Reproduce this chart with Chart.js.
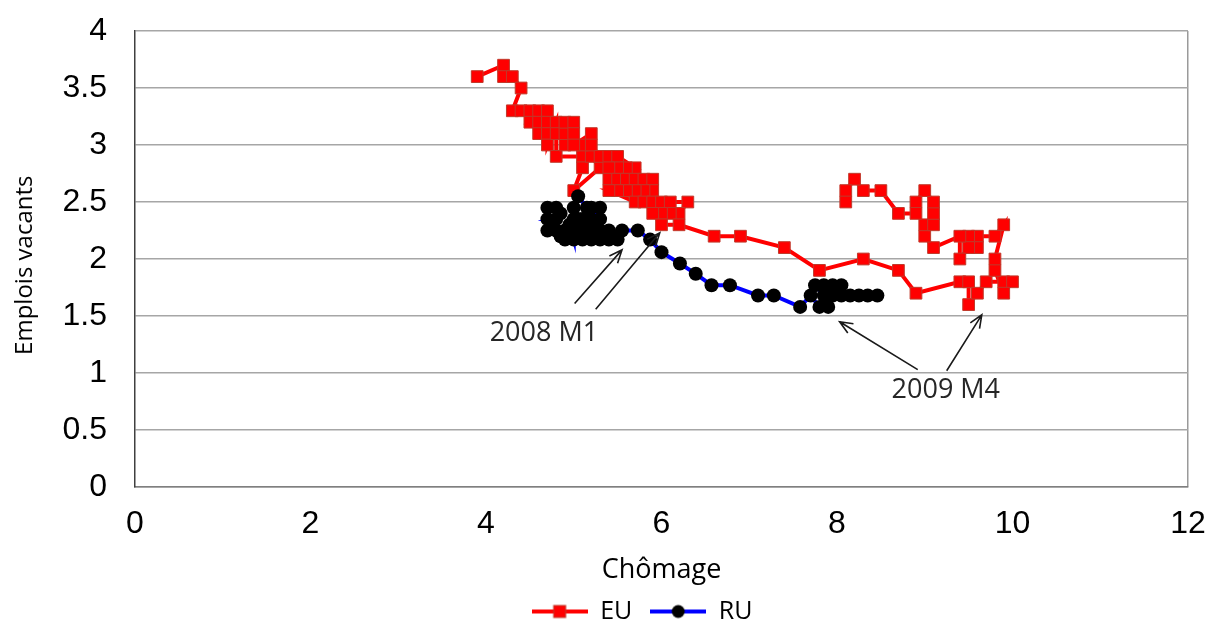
<!DOCTYPE html>
<html lang="fr">
<head>
<meta charset="UTF-8">
<title>Chômage et emplois vacants</title>
<script src="https://cdn.jsdelivr.net/npm/chart.js"></script>
<style>
  html, body { margin: 0; padding: 0; background: #fff; }
  #wrap { width: 1211px; height: 624px; }
</style>
</head>
<body>
<div id="wrap"><canvas id="chart" width="1211" height="624"></canvas></div>
<script>
// EU (États-Unis) : chômage / emplois vacants
const euX = [3.9, 4.2, 4.2, 4.3, 4.4, 4.3, 4.4, 4.5, 4.6, 4.7, 4.5, 4.6, 4.6, 4.7, 4.7, 4.7, 4.8, 4.8, 4.8, 5.1,
  5.1, 5.0, 5.3, 5.2, 5.1, 4.9, 4.9, 4.9, 5.0, 5.0, 5.0, 5.2, 5.2, 5.3, 5.4, 5.5,
  5.7, 5.6, 5.5, 5.4, 5.4, 5.5, 5.6, 5.7, 5.8, 5.9, 5.9, 5.8, 5.7, 5.6, 5.5, 5.4,
  5.7, 5.8, 5.9, 6.0, 6.1, 6.3, 6.2, 6.1, 6.0, 5.9, 6.0, 6.2,
  6.6, 6.9, 7.4, 7.8, 8.3, 8.7, 8.9, 9.4, 9.5, 9.5, 9.6, 9.7, 9.9, 10.0, 9.9, 9.8, 9.8, 9.9,
  9.8, 9.6, 9.5, 9.6, 9.5, 9.4, 9.4, 9.1, 9.0, 9.0, 9.1, 9.1, 9.1, 9.0, 8.9, 8.9, 8.7, 8.5,
  8.3, 8.2, 8.1, 8.1];
const euY = [3.6, 3.7, 3.6, 3.6, 3.5, 3.3, 3.3, 3.3, 3.3, 3.3, 3.2, 3.2, 3.1, 3.2, 3.1, 3.0, 3.2, 3.1, 2.9, 2.9,
  2.8, 2.6, 2.8, 2.9, 3.0, 3.0, 3.1, 3.2, 3.2, 3.1, 3.0, 3.1, 3.0, 2.9, 2.9, 2.9,
  2.8, 2.8, 2.8, 2.8, 2.7, 2.7, 2.7, 2.7, 2.7, 2.7, 2.6, 2.6, 2.6, 2.6, 2.6, 2.6,
  2.5, 2.5, 2.5, 2.5, 2.5, 2.5, 2.4, 2.4, 2.4, 2.4, 2.3, 2.3,
  2.2, 2.2, 2.1, 1.9, 2.0, 1.9, 1.7, 1.8, 1.8, 1.6, 1.7, 1.8, 1.8, 1.8, 1.7, 1.9, 2.0, 2.3,
  2.2, 2.2, 2.2, 2.1, 2.1, 2.0, 2.2, 2.1, 2.2, 2.3, 2.3, 2.4, 2.5, 2.6, 2.5, 2.4, 2.4, 2.6,
  2.6, 2.7, 2.6, 2.5];

// RU (Royaume-Uni)
const ruX = [4.7, 4.8, 4.85, 4.7, 4.8, 4.75, 4.7, 4.8, 4.9, 4.85, 4.9, 4.95, 5.0, 5.0, 5.0, 5.0, 5.05, 5.15, 5.2, 5.05,
  5.1, 5.2, 5.3, 5.3, 5.25, 5.15, 5.2, 5.1, 5.1, 5.2, 5.3, 5.3, 5.4, 5.4, 5.45, 5.5, 5.55,
  5.73, 5.87, 6.0, 6.21, 6.39, 6.57, 6.78, 7.1, 7.28, 7.58,
  7.7, 7.8, 7.9, 7.85, 7.75, 7.85, 7.95, 7.95, 8.05, 8.05, 8.15, 8.25, 8.35, 8.46];
const ruY = [2.45, 2.45, 2.4, 2.35, 2.35, 2.3, 2.25, 2.25, 2.25, 2.2, 2.17, 2.3, 2.17, 2.25, 2.35, 2.45, 2.55, 2.45, 2.45, 2.35,
  2.35, 2.35, 2.45, 2.35, 2.3, 2.3, 2.25, 2.25, 2.17, 2.17, 2.17, 2.25, 2.17, 2.25, 2.2, 2.17, 2.25,
  2.25, 2.17, 2.06, 1.96, 1.87, 1.77, 1.77, 1.68, 1.68, 1.58,
  1.68, 1.58, 1.58, 1.68, 1.77, 1.77, 1.68, 1.77, 1.77, 1.68, 1.68, 1.68, 1.68, 1.68];

const seriesNames = ['EU', 'RU'];

// annotations (in data units)
const noteTexts = ['2008 M1', '2009 M4'];
const notePos = [[4.66, 1.35], [9.24, 0.85]];
const arrowFrom = [[5.01, 1.61], [5.25, 1.56], [8.92, 1.03], [9.25, 1.02]];
const arrowTo = [[5.55, 2.08], [5.98, 2.23], [8.03, 1.45], [9.65, 1.51]];

const toPts = (xs, ys) => xs.map((x, i) => ({ x: x, y: ys[i] }));

function legendIcon(kind) {
  const c = document.createElement('canvas');
  c.width = 56; c.height = 16;
  const g = c.getContext('2d');
  g.lineWidth = 4;
  g.strokeStyle = kind === 'EU' ? '#ff0000' : '#0000ff';
  g.beginPath(); g.moveTo(0, 8); g.lineTo(56, 8); g.stroke();
  if (kind === 'EU') {
    g.fillStyle = '#ff0000'; g.fillRect(22, 2, 12, 12);
    g.strokeStyle = '#c0392b'; g.lineWidth = 1; g.strokeRect(22, 2, 12, 12);
  } else {
    g.fillStyle = '#000'; g.beginPath(); g.arc(28, 8, 6.5, 0, Math.PI * 2); g.fill();
  }
  return c;
}

const notesPlugin = {
  id: 'notes',
  afterDatasetsDraw(chart) {
    const { ctx, scales: { x, y } } = chart;
    ctx.save();
    ctx.strokeStyle = '#1a1a1a';
    ctx.lineWidth = 1.6;
    arrowFrom.forEach((f, i) => {
      const x0 = x.getPixelForValue(f[0]), y0 = y.getPixelForValue(f[1]);
      const x1 = x.getPixelForValue(arrowTo[i][0]), y1 = y.getPixelForValue(arrowTo[i][1]);
      const a = Math.atan2(y1 - y0, x1 - x0);
      ctx.beginPath();
      ctx.moveTo(x0, y0); ctx.lineTo(x1, y1);
      ctx.moveTo(x1 - 14 * Math.cos(a - 0.4), y1 - 14 * Math.sin(a - 0.4));
      ctx.lineTo(x1, y1);
      ctx.lineTo(x1 - 14 * Math.cos(a + 0.4), y1 - 14 * Math.sin(a + 0.4));
      ctx.stroke();
    });
    ctx.fillStyle = '#262626';
    ctx.font = '27px "Open Sans", sans-serif';
    ctx.textAlign = 'center';
    ctx.textBaseline = 'middle';
    noteTexts.forEach((t, i) => {
      ctx.fillText(t, x.getPixelForValue(notePos[i][0]), y.getPixelForValue(notePos[i][1]));
    });
    ctx.restore();
  }
};

const tickFont = { family: '"Liberation Sans", Arial, sans-serif', size: 32 };
const legendFontSize = 25;
const legendPad = 18;
const legendH = legendFontSize + legendPad + 10;
const padBottom = -10;

new Chart(document.getElementById('chart'), {
  type: 'scatter',
  data: {
    datasets: [
      {
        label: seriesNames[0],
        data: toPts(euX, euY),
        showLine: true,
        borderColor: '#ff0000',
        borderWidth: 4,
        pointStyle: 'rect',
        pointRadius: 8.3,
        pointBackgroundColor: '#ff0000',
        pointBorderColor: '#c0392b',
        pointBorderWidth: 1,
        order: 1
      },
      {
        label: seriesNames[1],
        data: toPts(ruX, ruY),
        showLine: true,
        borderColor: '#0000ff',
        borderWidth: 4,
        pointStyle: 'circle',
        pointRadius: 7,
        pointBackgroundColor: '#000000',
        pointBorderColor: '#000000',
        pointBorderWidth: 0,
        order: 0
      }
    ]
  },
  options: {
    responsive: false,
    animation: false,
    layout: { padding: { top: 31, right: 23, left: 0, bottom: padBottom } },
    plugins: {
      tooltip: { enabled: false },
      legend: {
        position: 'bottom',
        fullSize: false,
        labels: {
          font: { family: '"Open Sans", sans-serif', size: legendFontSize },
          color: '#000',
          usePointStyle: true,
          pointStyleWidth: 56,
          padding: legendPad,
          sort: (a, b) => a.datasetIndex - b.datasetIndex,
          generateLabels: (chart) => seriesNames.map((n, i) => ({
            text: i === 1 ? n + '      ' : n,
            datasetIndex: i,
            pointStyle: legendIcon(n),
            fontColor: '#000',
            lineWidth: 0
          }))
        }
      }
    },
    scales: {
      x: {
        min: 0, max: 12,
        ticks: { stepSize: 2, font: tickFont, color: '#000', padding: 3 },
        grid: {
          drawTicks: true,
          tickLength: 15,
          tickColor: 'rgba(0,0,0,0)',
          color: (c) => (c.tick && c.tick.value === 12 ? '#9a9a9a' : 'rgba(0,0,0,0)'),
          lineWidth: 1.5
        },
        border: { color: '#7f7f7f', width: 1.5 },
        title: {
          display: true, text: 'Chômage', color: '#000',
          font: { family: '"Open Sans", sans-serif', size: 27, lineHeight: 1 },
          padding: { top: 0, bottom: -3 }
        },
        afterFit: (s) => { s.height = 624 - 487 - legendH - padBottom; }
      },
      y: {
        min: 0, max: 4,
        ticks: {
          stepSize: 0.5, font: tickFont, color: '#000', padding: 3,
          callback: (v) => String(Number(v.toFixed(1)))
        },
        grid: { drawTicks: true, tickLength: 25, tickColor: 'rgba(0,0,0,0)', color: '#a6a6a6', lineWidth: 1.5 },
        border: { color: '#404040', width: 1.5 },
        title: {
          display: true, text: 'Emplois vacants  ', color: '#000',
          font: { family: '"Open Sans", sans-serif', size: 24 },
          padding: { top: 11, bottom: 0 }
        },
        afterFit: (s) => { s.width = 135; }
      }
    }
  },
  plugins: [notesPlugin]
});
</script>
</body>
</html>
